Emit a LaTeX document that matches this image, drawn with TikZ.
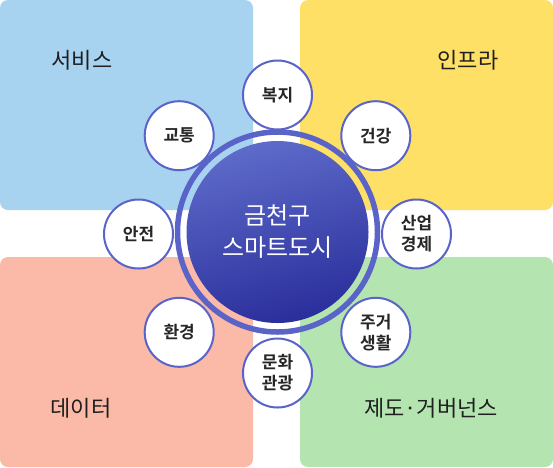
\documentclass[tikz,border=0pt]{standalone}
\usepackage{fontspec}
\setmainfont{Noto Sans CJK KR}
\newfontfamily\krbold{Noto Sans CJK KR Bold}
\definecolor{qblue}{HTML}{A7D3F1}
\definecolor{qyellow}{HTML}{FFE066}
\definecolor{qsalmon}{HTML}{FBB9A7}
\definecolor{qgreen}{HTML}{B4E5B1}
\definecolor{ringblue}{HTML}{5A63C8}
\definecolor{gradtop}{HTML}{5E6BCA}
\definecolor{gradmid}{HTML}{5563C3}
\definecolor{gradbot}{HTML}{2A2E9B}
\definecolor{labeltext}{HTML}{262626}
\begin{document}
\begin{tikzpicture}[x=1pt,y=-1pt,
  quad/.style={rounded corners=8pt},
  quadlabel/.style={font=\fontsize{22}{26}\selectfont, text=black!88},
  topic/.style={circle, draw=ringblue, line width=2pt, fill=white,
    minimum size=69pt, inner sep=0pt, align=center,
    font=\krbold\fontsize{17}{21}\selectfont, text=labeltext}]
\useasboundingbox (0,0) rectangle (553,467);
% quadrants
\fill[qblue,quad] (0,0) rectangle (253,210);
\fill[qyellow,quad] (300,0) rectangle (553,210);
\fill[qsalmon,quad] (0,257) rectangle (253,467);
\fill[qgreen,quad] (300,257) rectangle (553,467);
\node[quadlabel] (svc) at (82,60) {서비스};
\node[quadlabel] (infra) at (468,60) {인프라};
\node[quadlabel] (data) at (81,408) {데이터};
\node[quadlabel] (gov) at (431,408) {제도·거버넌스};
% central circle
\coordinate (c) at (277.5,232);
\draw[ringblue, line width=5.5pt] (c) circle[radius=100pt];
\shade[top color=gradtop, middle color=gradmid, bottom color=gradbot, shading angle=15] (c) circle[radius=91pt];
\node[text=white, align=center, font=\fontsize{24}{32}\selectfont] (title) at (c) {금천구\\스마트도시};
% topic circles
\node[topic] (welfare) at (277.5,95) {복지};
\node[topic] (health) at (375.8,135.7) {건강};
\node[topic] (economy) at (416.5,234) {산업\\경제};
\node[topic] (housing) at (375.8,332.3) {주거\\생활};
\node[topic] (culture) at (277.5,373) {문화\\관광};
\node[topic] (env) at (179.2,332.3) {환경};
\node[topic] (safety) at (138.5,234) {안전};
\node[topic] (traffic) at (179.2,135.7) {교통};
\end{tikzpicture}
\end{document}
